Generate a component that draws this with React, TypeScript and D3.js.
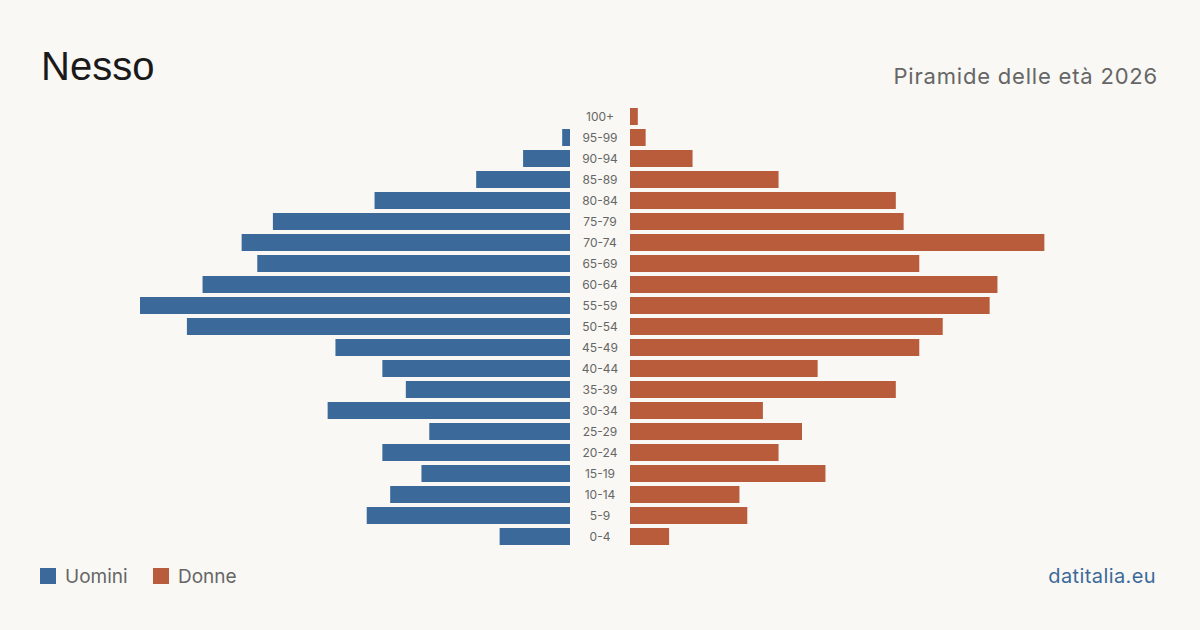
import React, { useEffect, useRef } from 'react';
import * as d3 from 'd3';

// fasce d'età, dall'alto in basso
const ageGroups = ['100+', '95-99', '90-94', '85-89', '80-84', '75-79', '70-74', '65-69', '60-64', '55-59', '50-54',
    '45-49', '40-44', '35-39', '30-34', '25-29', '20-24', '15-19', '10-14', '5-9', '0-4'];
const men = [0, 1, 6, 12, 25, 38, 42, 40, 47, 55, 49, 30, 24, 21, 31, 18, 24, 19, 23, 26, 9];
const women = [1, 2, 8, 19, 34, 35, 53, 37, 47, 46, 40, 37, 24, 34, 17, 22, 19, 25, 14, 15, 5];

const title = 'Nesso';
const subtitle = 'Piramide delle età 2026';
const legendLabels = ['Uomini', 'Donne'];
const source = 'datitalia.eu';

const W = 1200, H = 630;
const BLUE = '#3b6a9a', RED = '#b95c3c';

export default function App() {
    const ref = useRef<SVGSVGElement>(null);

    useEffect(() => {
        const svg = d3.select(ref.current);
        svg.selectAll('*').remove();

        const center = 600, gap = 30;
        const maxV = d3.max([...men, ...women]) as number;

        // lunghezza barre
        const len = d3.scaleLinear().domain([0, maxV]).range([0, 430]);
        // righe: passo 21px, barre da 17px
        const y = d3.scaleBand().domain(ageGroups).range([108, 545]).paddingInner(4 / 21).paddingOuter(0);

        svg.append('rect').attr('width', W).attr('height', H).attr('fill', '#f9f8f4');

        svg.append('text').attr('x', 41).attr('y', 80).text(title)
            .attr('font-family', 'Liberation Sans, Arial, sans-serif').attr('font-size', 40).attr('fill', '#1a1a1a');

        svg.append('text').attr('x', 1158).attr('y', 84).attr('text-anchor', 'end').text(subtitle)
            .attr('font-family', 'Inter, sans-serif').attr('font-size', 22).attr('letter-spacing', 0.8).attr('fill', '#666');

        const rows = svg.append('g');

        rows.selectAll('rect.m').data(ageGroups).join('rect').attr('class', 'm')
            .attr('x', (d, i) => center - gap - len(men[i]))
            .attr('y', d => y(d) as number)
            .attr('width', (d, i) => len(men[i]))
            .attr('height', y.bandwidth())
            .attr('fill', BLUE);

        rows.selectAll('rect.w').data(ageGroups).join('rect').attr('class', 'w')
            .attr('x', center + gap)
            .attr('y', d => y(d) as number)
            .attr('width', (d, i) => len(women[i]))
            .attr('height', y.bandwidth())
            .attr('fill', RED);

        rows.selectAll('text').data(ageGroups).join('text')
            .attr('x', center)
            .attr('y', d => (y(d) as number) + y.bandwidth() / 2)
            .attr('dy', '0.35em')
            .attr('text-anchor', 'middle')
            .attr('font-family', 'Inter, sans-serif').attr('font-size', 12).attr('fill', '#666')
            .text(d => d);

        // legenda
        const lg = svg.append('g').attr('transform', 'translate(40,568)');
        [BLUE, RED].forEach((c, i) => {
            const gx = i * 113;
            lg.append('rect').attr('x', gx).attr('y', 0).attr('width', 16).attr('height', 16).attr('fill', c);
            lg.append('text').attr('x', gx + 25).attr('y', 15).text(legendLabels[i])
                .attr('font-family', 'Inter, sans-serif').attr('font-size', 19).attr('fill', '#666');
        });

        svg.append('text').attr('x', 1156).attr('y', 583).attr('text-anchor', 'end').text(source)
            .attr('font-family', 'Inter, sans-serif').attr('font-size', 20).attr('letter-spacing', 0.4).attr('fill', '#3b6a9a');
    }, []);

    return (
        <svg ref={ref} width={W} height={H} style={{ position: 'absolute', left: 0, top: 0 }} />
    );
}
